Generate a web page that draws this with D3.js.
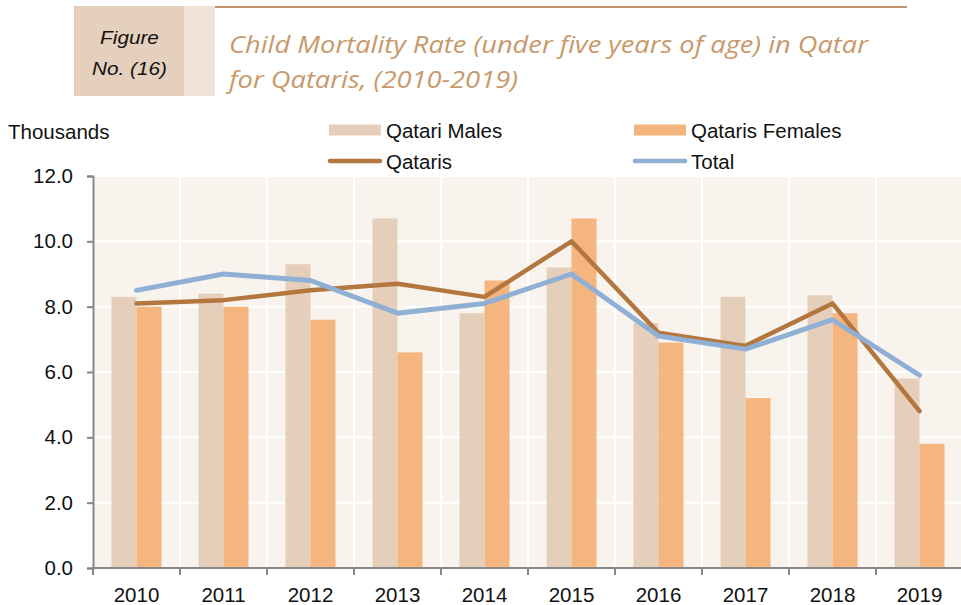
<!DOCTYPE html>
<html lang="en">
<head>
  <meta charset="UTF-8" />
  <title>Child Mortality Rate in Qatar for Qataris</title>
  <style>
    body { margin: 0; background: #ffffff; }
    svg { display: block; }
  </style>
  <script src="https://d3js.org/d3.v7.min.js"></script>
</head>
<body>
  <script>
    // data (thousands)
    const years = ["2010", "2011", "2012", "2013", "2014", "2015", "2016", "2017", "2018", "2019"];
    const males = [8.3, 8.4, 9.3, 10.7, 7.8, 9.2, 7.5, 8.3, 8.35, 5.8];
    const females = [8.0, 8.0, 7.6, 6.6, 8.8, 10.7, 6.9, 5.2, 7.8, 3.8];
    const qataris = [8.1, 8.2, 8.5, 8.7, 8.3, 10.0, 7.2, 6.8, 8.1, 4.8];
    const total = [8.5, 9.0, 8.8, 7.8, 8.1, 9.0, 7.1, 6.7, 7.6, 5.9];
    const yTicks = [0, 2, 4, 6, 8, 10, 12];

    const W = 961, H = 605;
    const plot = { left: 93, right: 963, top: 176, bottom: 568 };
    const FONT = "Liberation Sans, Arial, sans-serif";
    const FS = 20.5;

    const svg = d3.select("body").append("svg")
      .attr("width", W)
      .attr("height", H);

    // the figure label is a bit wider than Arial italic, stretch it
    function stretch(sel, k) {
      sel.each(function () {
        const len = this.getComputedTextLength();
        d3.select(this).attr("textLength", len * k).attr("lengthAdjust", "spacingAndGlyphs");
      });
    }

    // header block
    svg.append("rect").attr("x", 74).attr("y", 6).attr("width", 110).attr("height", 90).attr("fill", "#e5d0bd");
    svg.append("rect").attr("x", 184).attr("y", 6).attr("width", 31).attr("height", 90).attr("fill", "#f0e3d7");
    svg.append("line")
      .attr("x1", 215).attr("x2", 907).attr("y1", 7).attr("y2", 7)
      .attr("stroke", "#c4936a").attr("stroke-width", 2);

    svg.append("text").attr("x", 129.5).attr("y", 43.5)
      .attr("text-anchor", "middle").attr("font-family", FONT)
      .attr("font-style", "italic").attr("font-size", 18.5).attr("fill", "#111")
      .text("Figure").call(stretch, 1.12);
    svg.append("text").attr("x", 129.5).attr("y", 75)
      .attr("text-anchor", "middle").attr("font-family", FONT)
      .attr("font-style", "italic").attr("font-size", 18.5).attr("fill", "#111")
      .text("No. (16)").call(stretch, 1.12);

    const titleStyle = t => t.attr("font-family", "Open Sans, Lato, sans-serif")
      .attr("font-style", "italic").attr("font-size", 24).attr("fill", "#c8996b")
      .attr("lengthAdjust", "spacingAndGlyphs");
    svg.append("text").attr("x", 229).attr("y", 53)
      .call(titleStyle).attr("textLength", 639)
      .text("Child Mortality Rate (under five years of age) in Qatar");
    svg.append("text").attr("x", 229).attr("y", 88)
      .call(titleStyle).attr("textLength", 289)
      .text("for Qataris, (2010-2019)");

    // scales
    const x = d3.scaleBand().domain(years).range([plot.left, plot.right]).padding(0);
    const y = d3.scaleLinear().domain([0, 12]).range([plot.bottom, plot.top]);
    const inner = d3.scaleBand().domain(["m", "f"]).range([0, x.bandwidth()]).paddingInner(0).paddingOuter(0.74);

    const g = svg.append("g");

    g.append("rect")
      .attr("x", plot.left).attr("y", y(12))
      .attr("width", plot.right - plot.left).attr("height", y(0) - y(12))
      .attr("fill", "#f8f3ed");

    // grid
    g.selectAll(".hgrid").data(yTicks.slice(1)).enter().append("line")
      .attr("x1", plot.left).attr("x2", plot.right)
      .attr("y1", d => y(d)).attr("y2", d => y(d))
      .attr("stroke", "#ffffff").attr("stroke-width", 2);
    g.selectAll(".vgrid").data(years.slice(1)).enter().append("line")
      .attr("x1", d => x(d)).attr("x2", d => x(d))
      .attr("y1", y(12)).attr("y2", y(0))
      .attr("stroke", "#ffffff").attr("stroke-width", 2);

    // bars
    g.selectAll(".male").data(years).enter().append("rect")
      .attr("x", d => x(d) + inner("m"))
      .attr("y", (d, i) => y(males[i]))
      .attr("width", inner.bandwidth())
      .attr("height", (d, i) => y(0) - y(males[i]))
      .attr("fill", "#e5cfbb");
    g.selectAll(".female").data(years).enter().append("rect")
      .attr("x", d => x(d) + inner("f"))
      .attr("y", (d, i) => y(females[i]))
      .attr("width", inner.bandwidth())
      .attr("height", (d, i) => y(0) - y(females[i]))
      .attr("fill", "#f4b57f");

    // lines
    const line = d3.line()
      .x((d, i) => x(years[i]) + x.bandwidth() / 2)
      .y(d => y(d));
    g.append("path").datum(qataris)
      .attr("d", line).attr("fill", "none")
      .attr("stroke", "#b4763f").attr("stroke-width", 4.5)
      .attr("stroke-linecap", "round").attr("stroke-linejoin", "round");
    g.append("path").datum(total)
      .attr("d", line).attr("fill", "none")
      .attr("stroke", "#8fb0d4").attr("stroke-width", 5)
      .attr("stroke-linecap", "round").attr("stroke-linejoin", "round");

    // axes
    const yAxis = svg.append("g")
      .attr("transform", "translate(" + plot.left + ",0)")
      .call(d3.axisLeft(y).tickValues(yTicks).tickFormat(d3.format(".1f")).tickSize(6).tickPadding(14));
    const xAxis = svg.append("g")
      .attr("transform", "translate(0," + plot.bottom + ")")
      .call(d3.axisBottom(x).tickSize(0).tickPadding(19));
    // category boundary ticks
    xAxis.selectAll(".bound").data(years.concat(["end"])).enter().append("line")
      .attr("x1", (d, i) => plot.left + i * x.bandwidth())
      .attr("x2", (d, i) => plot.left + i * x.bandwidth())
      .attr("y1", 0).attr("y2", 7)
      .attr("stroke", "#878787").attr("stroke-width", 2);

    [yAxis, xAxis].forEach(a => {
      a.select(".domain").attr("stroke", "#878787").attr("stroke-width", 2);
      a.selectAll(".tick line").attr("stroke", "#878787").attr("stroke-width", 2);
      a.selectAll(".tick text")
        .attr("font-family", FONT)
        .attr("font-size", FS).attr("fill", "#111");
    });
    xAxis.select(".domain").attr("d", "M" + plot.left + ",0H" + plot.right);

    svg.append("text").attr("x", 8).attr("y", 139)
      .attr("font-family", FONT)
      .attr("font-size", FS).attr("fill", "#111")
      .text("Thousands");

    // legend
    const legend = svg.append("g")
      .attr("font-family", FONT)
      .attr("font-size", FS).attr("fill", "#111");
    const legendItems = [
      { name: "Qatari Males", type: "bar", color: "#e5cfbb", x: 329, y: 130 },
      { name: "Qataris Females", type: "bar", color: "#f4b57f", x: 634, y: 130 },
      { name: "Qataris", type: "line", color: "#b4763f", x: 329, y: 161 },
      { name: "Total", type: "line", color: "#8fb0d4", x: 634, y: 161 }
    ];
    legendItems.forEach(d => {
      if (d.type === "bar") {
        legend.append("rect").attr("x", d.x).attr("y", d.y - 5.5)
          .attr("width", 52).attr("height", 11).attr("fill", d.color);
      } else {
        legend.append("line").attr("x1", d.x + 1).attr("x2", d.x + 51)
          .attr("y1", d.y).attr("y2", d.y)
          .attr("stroke", d.color).attr("stroke-width", 4.5).attr("stroke-linecap", "round");
      }
      legend.append("text").attr("x", d.x + 57).attr("y", d.y + 7.5).text(d.name);
    });
  </script>
</body>
</html>
